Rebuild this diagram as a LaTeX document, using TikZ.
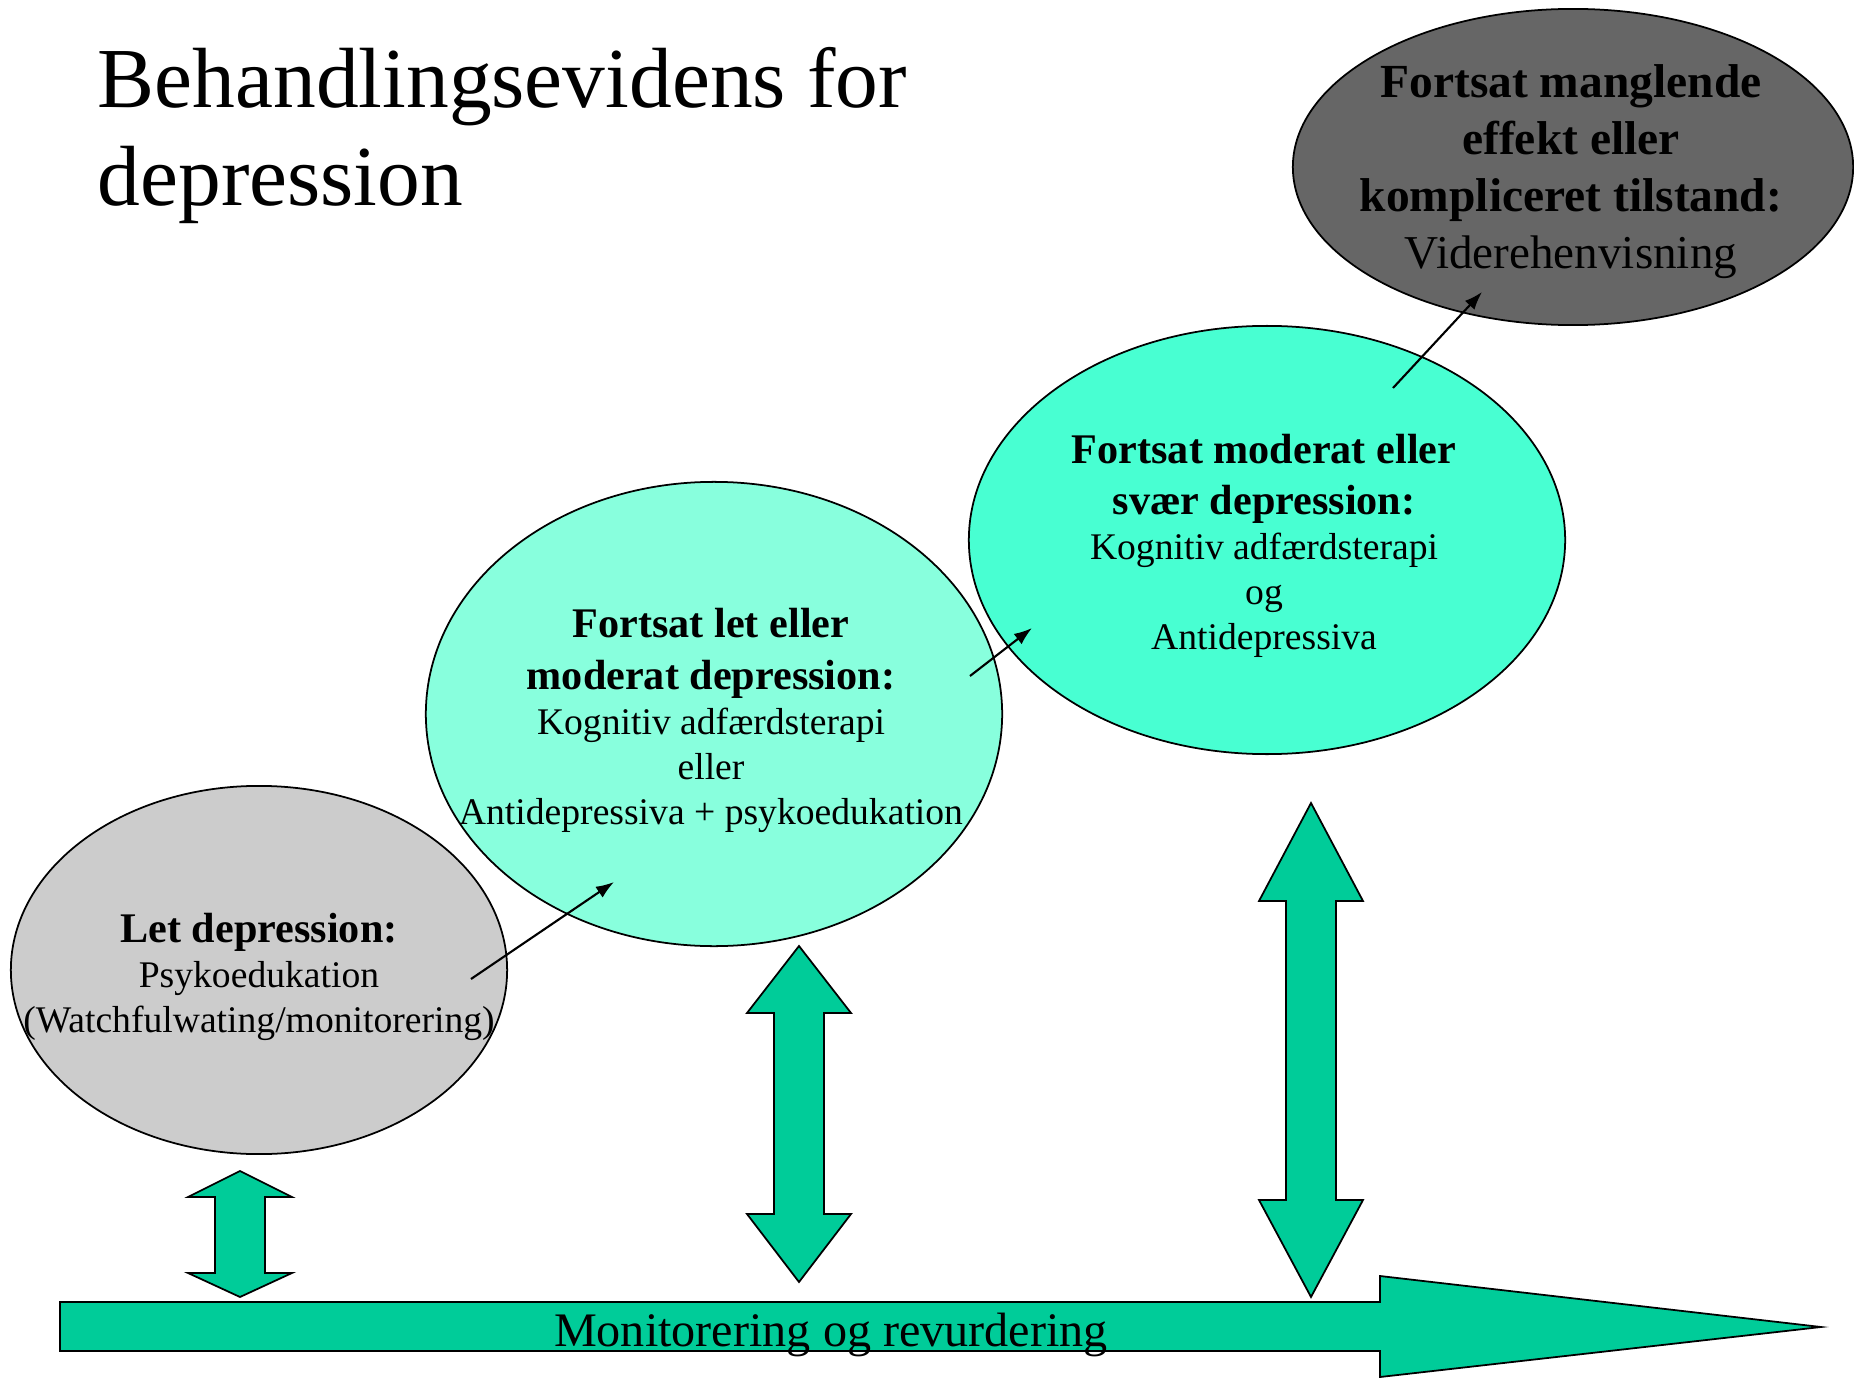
\documentclass[tikz,border=0pt]{standalone}
\usepackage{fontspec}
\setmainfont{Liberation Serif}
\usepackage{xcolor}
\usepackage{tikz}
\usetikzlibrary{positioning,arrows.meta,shapes.geometric,calc}
\definecolor{softgray}{HTML}{CCCCCC}
\definecolor{darkgray}{HTML}{666666}
\definecolor{paleaqua}{HTML}{88FFDD}
\definecolor{midaqua}{HTML}{48FFD2}
\definecolor{arrowgreen}{HTML}{00CC99}
\newcommand{\hdline}[1]{{\fontsize{12}{14.4}\selectfont\bfseries #1}}
\newcommand{\hdbig}[1]{{\fontsize{13.5}{16.2}\selectfont\bfseries #1}}
\tikzset{
stage/.style={
ellipse,
draw,
line width=0.5pt,
inner sep=0pt
},
stagetext/.style={
align=center,
inner sep=0pt,
font=\fontsize{10.7}{12.8}\selectfont
},
blockarrow/.style={
draw,
line width=0.5pt,
fill=arrowgreen
},
arrow/.style={
-{Latex[length=1.8mm,width=1.3mm]},
line width=0.6pt
}
}

\begin{document}
\begin{tikzpicture}[x=0.01cm,y=-0.01cm]
\useasboundingbox (0,0) rectangle (1854,1379);

\node[anchor=north west,inner sep=0pt,align=left,font=\fontsize{24.3}{27.9}\selectfont](title) at (97,47){Behandlingsevidens for\\depression};

% monitoring arrow along the bottom
\draw[blockarrow](60,1302)--(1380,1302)--(1380,1276)--(1821,1327)--(1380,1377)--(1380,1351)--(60,1351)--cycle;
\node[anchor=base,inner sep=0pt,font=\fontsize{13.7}{16}\selectfont](mon) at (831,1346){Monitorering og revurdering};

% stages
\node[stage,fill=softgray,minimum width=4.96cm,minimum height=3.68cm](s1) at (259,970){};
\node[stage,fill=paleaqua,minimum width=5.76cm,minimum height=4.64cm](s2) at (714,714){};
\node[stage,fill=midaqua,minimum width=5.96cm,minimum height=4.28cm](s3) at (1267,540){};
\node[stage,fill=darkgray,minimum width=5.60cm,minimum height=3.16cm](s4) at (1573,167){};

\node[stagetext](t1) at ($(s1)+(0,7)$){\hdline{Let depression:}\\Psykoedukation\\(Watchfulwating/monitorering)};
\node[stagetext](t2) at ($(s2)+(-3,6)$){\hdline{Fortsat let eller}\\[2pt]\hdline{moderat depression:}\\Kognitiv adfærdsterapi\\eller\\Antidepressiva + psykoedukation};
\node[stagetext](t3) at ($(s3)+(-3,6)$){\hdline{Fortsat moderat eller}\\[1.7pt]\hdline{svær depression:}\\Kognitiv adfærdsterapi\\og\\Antidepressiva};
\node[stagetext,font=\fontsize{13.4}{16.2}\selectfont](t4) at ($(s4)+(-2,5)$){\hdbig{Fortsat manglende}\\\hdbig{effekt eller}\\\hdbig{kompliceret tilstand:}\\Viderehenvisning};

% double arrows down to the monitoring arrow
\foreach \x/\ya/\yb/\yc/\yd in {240/1171/1197/1273/1297,799/946/1013/1214/1282,1311/803/901/1200/1297}
\draw[blockarrow](\x,\ya)--(\x+52,\yb)--(\x+25,\yb)--(\x+25,\yc)--(\x+52,\yc)--(\x,\yd)--(\x-52,\yc)--(\x-25,\yc)--(\x-25,\yb)--(\x-52,\yb)--cycle;

% steps between stages
\coordinate(p1) at (471,979);
\coordinate(q1) at (614,882);
\coordinate(p2) at (970,676);
\coordinate(q2) at (1032,628);
\coordinate(p3) at (1393,388);
\coordinate(q3) at (1482,292);
\foreach \a/\b in {p1/q1,p2/q2,p3/q3}
\draw[arrow](\a)--(\b);
\end{tikzpicture}
\end{document}
